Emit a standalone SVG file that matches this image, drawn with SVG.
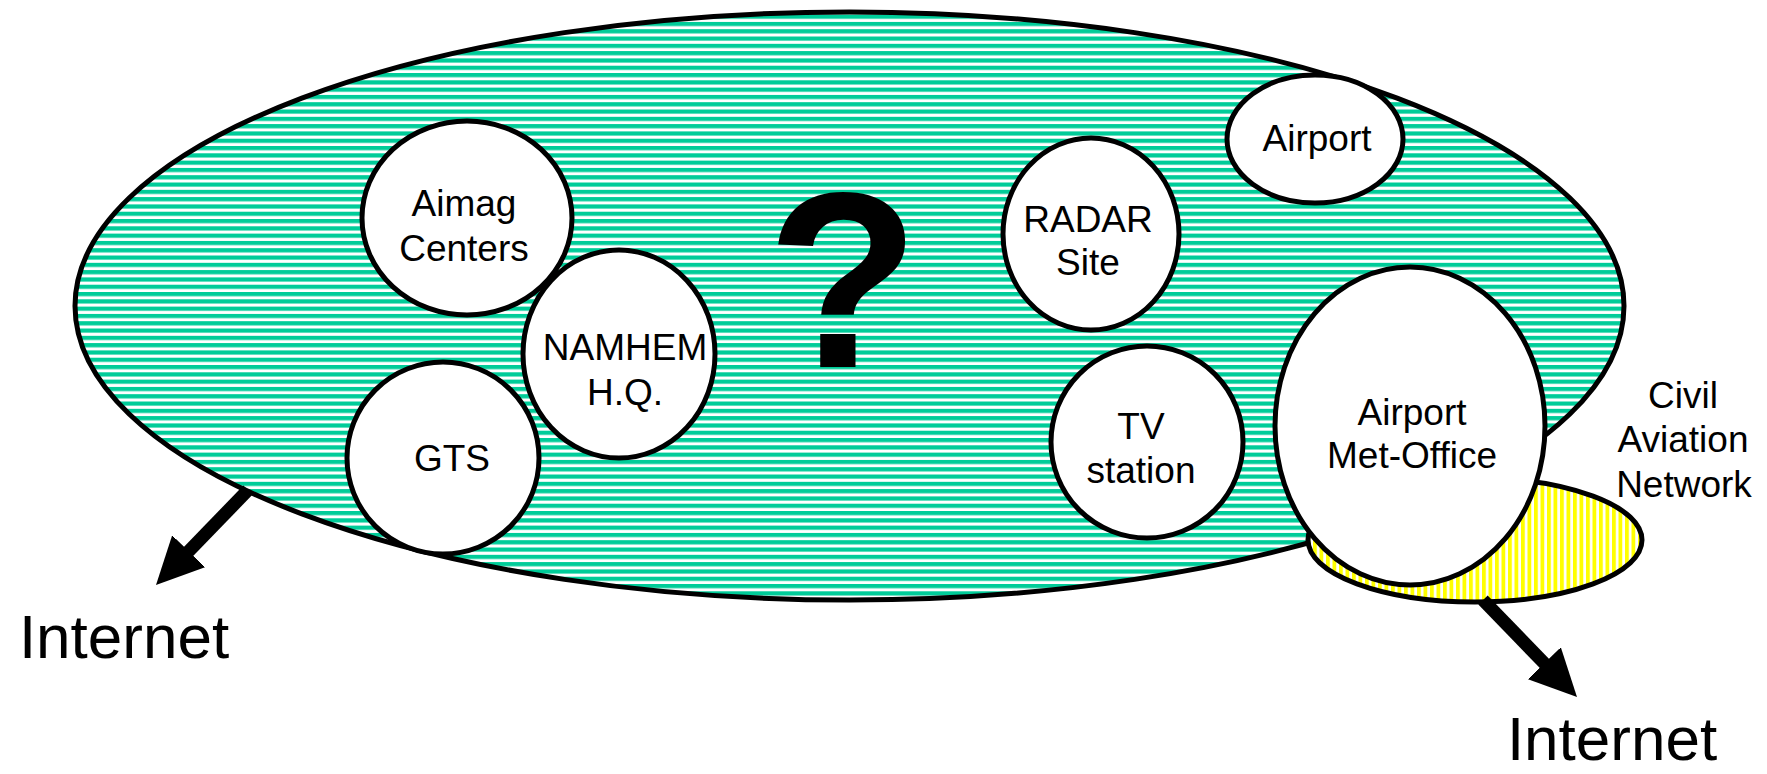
<svg xmlns="http://www.w3.org/2000/svg" width="1767" height="774" viewBox="0 0 1767 774">
<style>
.lbl{font-family:"Liberation Sans",Arial,sans-serif;font-size:37px;fill:#000;text-anchor:middle}
.big{font-family:"Liberation Sans",Arial,sans-serif;font-size:62px;fill:#000;text-anchor:middle}
.node{fill:#fff;stroke:#000;stroke-width:5}
.arrow{stroke:#000;stroke-width:13;fill:none;marker-end:url(#head)}
</style>
<defs>
<pattern id="hgreen" patternUnits="userSpaceOnUse" width="20" height="7.3">
<rect width="20" height="7.3" fill="#fff"/>
<rect y="0" width="20" height="4.2" fill="#00CC99"/>
</pattern>
<pattern id="vyellow" patternUnits="userSpaceOnUse" width="6.5" height="20">
<rect width="6.5" height="20" fill="#fff"/>
<rect x="0" width="3.8" height="20" fill="#FFFF00"/>
</pattern>
<marker id="head" markerUnits="userSpaceOnUse" viewBox="0 0 47 46" markerWidth="47" markerHeight="46" refX="1" refY="23" orient="auto">
<path d="M0,0 L47,23 L0,46 z" fill="#000"/>
</marker>
</defs>
<g id="network">
<ellipse cx="849.5" cy="306" rx="774.5" ry="294" fill="url(#hgreen)" stroke="#000" stroke-width="5"/>
<text x="843" y="367" style="font-family:'Liberation Sans',Arial,sans-serif;font-size:250px;font-weight:bold;text-anchor:middle">?</text>
</g>
<g id="civil-aviation">
<ellipse cx="1475" cy="540" rx="167" ry="62" fill="url(#vyellow)" stroke="#000" stroke-width="5"/>
<text class="lbl" x="1683" y="408">Civil</text>
<text class="lbl" x="1683" y="452">Aviation</text>
<text class="lbl" x="1684" y="497">Network</text>
</g>
<g id="aimag">
<ellipse class="node" cx="467" cy="218" rx="105" ry="97"/>
<text class="lbl" x="464" y="216">Aimag</text>
<text class="lbl" x="464" y="261">Centers</text>
</g>
<g id="namhem">
<ellipse class="node" cx="619" cy="354" rx="96" ry="104"/>
<text class="lbl" x="625" y="360">NAMHEM</text>
<text class="lbl" x="625" y="405">H.Q.</text>
</g>
<g id="gts">
<ellipse class="node" cx="443" cy="458" rx="96" ry="96"/>
<text class="lbl" x="452" y="471">GTS</text>
</g>
<g id="airport">
<ellipse class="node" cx="1315" cy="139" rx="88" ry="64"/>
<text class="lbl" x="1317" y="151">Airport</text>
</g>
<g id="radar">
<ellipse class="node" cx="1091" cy="234" rx="88" ry="96"/>
<text class="lbl" x="1088" y="232">RADAR</text>
<text class="lbl" x="1088" y="275">Site</text>
</g>
<g id="tv">
<ellipse class="node" cx="1147" cy="442" rx="96" ry="96"/>
<text class="lbl" x="1141" y="439">TV</text>
<text class="lbl" x="1141" y="483">station</text>
</g>
<g id="met-office">
<ellipse class="node" cx="1410" cy="426" rx="135" ry="159"/>
<text class="lbl" x="1412" y="425">Airport</text>
<text class="lbl" x="1412" y="468">Met-Office</text>
</g>
<g id="connectors">
<line class="arrow" x1="248" y1="490" x2="188" y2="552"/>
<line class="arrow" x1="1483" y1="600" x2="1545" y2="664"/>
</g>
<g id="internet-left">
<text class="big" x="124" y="658">Internet</text>
</g>
<g id="internet-right">
<text class="big" x="1612" y="760">Internet</text>
</g>
</svg>
